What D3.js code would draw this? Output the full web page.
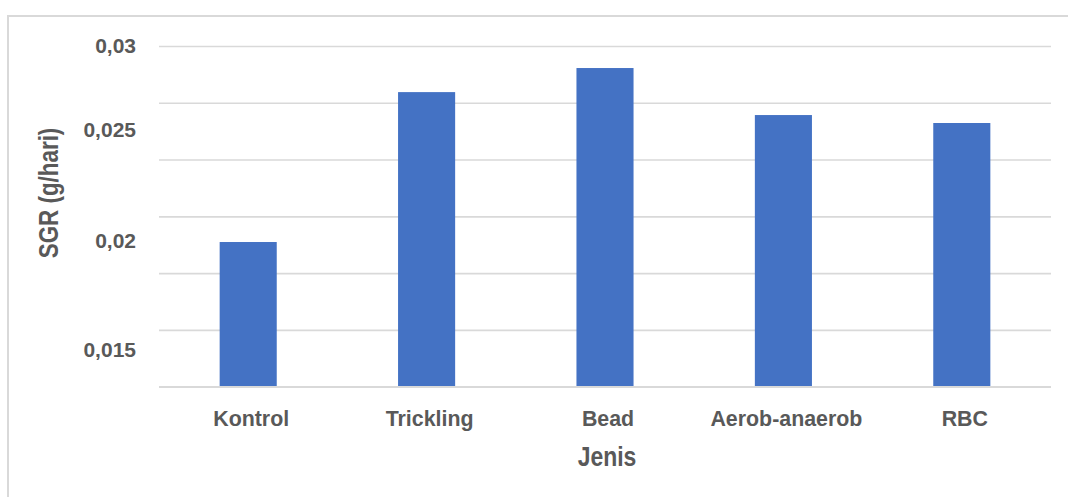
<!DOCTYPE html>
<html>
<head>
<meta charset="utf-8">
<script src="https://cdn.jsdelivr.net/npm/d3@7"></script>
<style>
  html, body { margin: 0; padding: 0; background: #ffffff; }
  svg { display: block; }
  text { font-family: "Liberation Sans", Arial, sans-serif; font-weight: bold; fill: #595959; }
</style>
</head>
<body>
<svg id="chart" width="1068" height="497"></svg>
<script>
// ---- data ----
const categories = ["Kontrol", "Trickling", "Bead", "Aerob-anaerob", "RBC"];
const sgrValues = [0.02137, 0.02797, 0.02903, 0.02696, 0.02661];
const gridTicks = [0.015, 0.0175, 0.02, 0.0225, 0.025, 0.0275, 0.03];
const yTickLabels = ["0,03", "0,025", "0,02", "0,015"];
const yTickLabelAt = [0.03, 0.0263, 0.02144, 0.01662];
const yTitle = "SGR (g/hari)";
const xTitle = "Jenis";

// ---- layout ----
const svg = d3.select("#chart");
const W = 1068, H = 497;
const plot = { left: 159, right: 1051, top: 46, bottom: 386.7 };

// frame
svg.append("path")
  .attr("d", `M8,${H} L8,16 L${W},16`)
  .attr("fill", "none")
  .attr("stroke", "#d9d9d9")
  .attr("stroke-width", 2);

const x = d3.scaleBand()
  .domain(categories)
  .range([plot.left, plot.right])
  .paddingInner(0.68)
  .paddingOuter(0.34);

const y = d3.scaleLinear()
  .domain([0.015, 0.03])
  .range([plot.bottom, plot.top]);

// gridlines
const grid = svg.append("g")
  .attr("transform", `translate(${plot.left},0)`)
  .call(d3.axisLeft(y).tickValues(gridTicks).tickSize(-(plot.right - plot.left)).tickFormat(""));
grid.select(".domain").remove();
grid.selectAll(".tick line").attr("stroke", "#d9d9d9").attr("stroke-width", 1.6);

// bars
svg.append("g")
  .selectAll("rect")
  .data(categories)
  .join("rect")
  .attr("x", d => x(d))
  .attr("width", x.bandwidth())
  .attr("y", (d, i) => y(sgrValues[i]))
  .attr("height", (d, i) => plot.bottom - y(sgrValues[i]))
  .attr("fill", "#4472C4");

// baseline axis
svg.append("line")
  .attr("x1", plot.left).attr("x2", plot.right)
  .attr("y1", plot.bottom).attr("y2", plot.bottom)
  .attr("stroke", "#d9d9d9").attr("stroke-width", 1.6);

// y tick labels
svg.append("g")
  .selectAll("text")
  .data(yTickLabels)
  .join("text")
  .attr("x", 136)
  .attr("y", (d, i) => y(yTickLabelAt[i]))
  .attr("dy", "0.35em")
  .attr("text-anchor", "end")
  .attr("font-size", 21)
  .text(d => d);

// x category labels
svg.append("g")
  .selectAll("text")
  .data(categories)
  .join("text")
  .attr("transform", d => `translate(${x(d) + x.bandwidth() / 2 + 3},418) scale(0.93,1)`)
  .attr("dy", "0.35em")
  .attr("text-anchor", "middle")
  .attr("font-size", 23)
  .text(d => d);

// axis titles
svg.append("text")
  .attr("transform", "translate(48,193) rotate(-90) scale(0.8,1)")
  .attr("text-anchor", "middle")
  .attr("dy", "0.35em")
  .attr("font-size", 28)
  .text(yTitle);

svg.append("text")
  .attr("transform", "translate(607,456) scale(0.82,1)")
  .attr("dy", "0.35em")
  .attr("text-anchor", "middle")
  .attr("font-size", 28)
  .text(xTitle);
</script>
</body>
</html>
